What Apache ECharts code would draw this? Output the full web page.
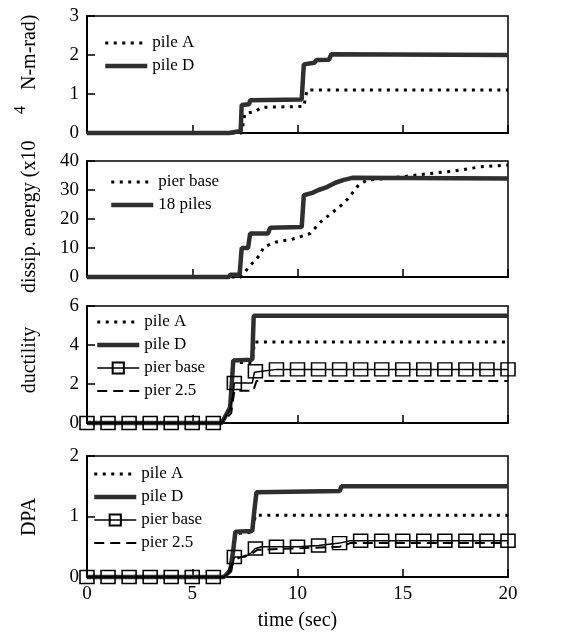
<!DOCTYPE html>
<html>
<head>
<meta charset="utf-8">
<script src="https://cdn.jsdelivr.net/npm/echarts@6/dist/echarts.min.js"></script>
<style>
  html, body { margin: 0; background: #fff; }
  #chart { width: 564px; height: 639px; }
</style>
</head>
<body>
<div id="chart"></div>
<script>
// panel 1: dissipated energy in piles (x10^4 N-m-rad)
var enPileAT = [0, 7.35, 7.5, 8.0, 8.3, 10.3, 10.45, 20]
var enPileAV = [0, 0, 0.5, 0.55, 0.66, 0.68, 1.1, 1.1]
var enPileDT = [0, 6.75, 6.8, 7.3, 7.35, 7.7, 7.75, 10.2, 10.3, 10.8, 10.9, 11.5, 11.6, 20]
var enPileDV = [0, 0, 0.05, 0.05, 0.72, 0.74, 0.84, 0.86, 1.76, 1.8, 1.87, 1.88, 2.02, 2.0]

// panel 2: pier base vs all 18 piles
var enPierT = [0, 7.3, 7.7, 8.2, 8.4, 9.0, 9.7, 10.1, 10.6, 11.1, 11.7, 12.0, 12.4, 12.9, 13.3, 14.9, 16.3, 17.4, 18.7, 20]
var enPierV = [0, 0, 3.5, 7.5, 10.4, 12.1, 12.9, 13.8, 15, 19, 22.5, 24.2, 27, 31.7, 33.4, 34.5, 35.7, 36.5, 38, 38.6]
var en18T = [0, 6.75, 6.8, 7.25, 7.35, 7.65, 7.75, 8.6, 8.7, 10.2, 10.3, 10.7, 11.0, 11.4, 11.8, 12.2, 12.6, 20]
var en18V = [0, 0, 0.8, 0.8, 10, 10, 15, 15, 17, 17.2, 28.2, 29, 30, 31, 32.5, 33.5, 34.2, 34]

// panel 3: ductility
var duPileAT = [0, 6.4, 6.8, 6.95, 7.85, 7.95, 20]
var duPileAV = [0, 0, 0.8, 3.1, 3.1, 4.15, 4.15]
var duPileDT = [0, 6.4, 6.8, 6.95, 7.85, 7.92, 20]
var duPileDV = [0, 0, 0.8, 3.2, 3.25, 5.5, 5.5]
var duPierT = [0, 1, 2, 3, 4, 5, 6, 6.4, 6.8, 6.95, 7, 7.85, 7.95, 8, 9, 10, 11, 12, 13, 14, 15, 16, 17, 18, 19, 20]
var duPierV = [0, 0, 0, 0, 0, 0, 0, 0, 0.7, 1.6, 2.05, 2.05, 2.6, 2.65, 2.75, 2.75, 2.75, 2.75, 2.75, 2.75, 2.75, 2.75, 2.75, 2.75, 2.75, 2.75]
var duPier25T = [0, 6.4, 6.85, 7.0, 7.9, 8.05, 20]
var duPier25V = [0, 0, 0.5, 1.65, 1.65, 2.15, 2.15]

// panel 4: DPA
var dpPileAT = [0, 6.5, 6.8, 7.05, 7.85, 8.0, 20]
var dpPileAV = [0, 0, 0.1, 0.72, 0.74, 1.02, 1.02]
var dpPileDT = [0, 6.5, 6.8, 6.95, 7.05, 7.85, 7.95, 8.05, 12, 12.1, 20]
var dpPileDV = [0, 0, 0.1, 0.45, 0.75, 0.76, 1.1, 1.4, 1.42, 1.5, 1.5]
var dpPierT = [0, 1, 2, 3, 4, 5, 6, 6.5, 6.85, 7, 7.5, 7.8, 8, 8.3, 9, 10, 11, 11.5, 12, 12.5, 13, 14, 15, 16, 17, 18, 19, 20]
var dpPierV = [0, 0, 0, 0, 0, 0, 0, 0, 0.1, 0.33, 0.33, 0.4, 0.47, 0.5, 0.5, 0.5, 0.52, 0.54, 0.56, 0.6, 0.6, 0.6, 0.6, 0.6, 0.6, 0.6, 0.6, 0.6]
var dpPier25T = [0, 6.5, 6.9, 7.1, 7.9, 8.1, 12, 12.5, 20]
var dpPier25V = [0, 0, 0.2, 0.3, 0.4, 0.45, 0.5, 0.56, 0.56]

// y axis ranges per panel
var yMax = [3, 40, 6, 2]
var yStep = [1, 10, 2, 1]

var FONT = 'Liberation Serif'
var chart = echarts.init(document.getElementById('chart'))

function pts(t, v) {
  return t.map(function (x, i) { return [x, v[i]] })
}
// squares only on whole seconds
function marked(t, v) {
  return t.map(function (x, i) {
    return Number.isInteger(x) ? [x, v[i]] : { value: [x, v[i]], symbol: 'none' }
  })
}

var dotted = { color: '#000', width: 3, type: [3, 5.5] }
var thick = { color: '#2f2f2f', width: 4.5 }
var dashed = { color: '#000', width: 2, type: [10, 6] }
var noMark = { color: 'transparent', borderWidth: 0, opacity: 0 }

function line(name, idx, data, style) {
  return {
    name: name, type: 'line', xAxisIndex: idx, yAxisIndex: idx,
    data: data, symbol: 'none', lineStyle: style, itemStyle: noMark,
    clip: false, animation: false
  }
}
function squares(name, idx, data) {
  return {
    name: name, type: 'line', xAxisIndex: idx, yAxisIndex: idx,
    data: data, symbol: 'rect', symbolSize: [14, 13], showSymbol: true, showAllSymbol: true,
    itemStyle: { color: 'transparent', borderColor: '#000', borderWidth: 1.5 },
    lineStyle: { color: '#000', width: 1.5 }, clip: false, animation: false, z: 3
  }
}

var grids = [
  { left: 87, right: 56, top: 16, height: 117 },
  { left: 87, right: 56, top: 161, height: 116 },
  { left: 87, right: 56, top: 306, height: 117 },
  { left: 87, right: 56, top: 456, height: 121 }
]
grids.forEach(function (g) { g.show = true; g.borderColor = '#000'; g.borderWidth = 1.5 })

var xAxes = grids.map(function (g, i) {
  return {
    type: 'value', gridIndex: i, min: 0, max: 20, interval: 5,
    axisLine: { lineStyle: { color: '#000', width: 2 } },
    axisTick: { inside: true, length: 8, lineStyle: { color: '#000', width: 1.5 } },
    axisLabel: { show: i === 3, color: '#000', fontFamily: FONT, fontSize: 19, margin: 8 },
    splitLine: { show: false },
    name: i === 3 ? 'time (sec)' : '', nameLocation: 'middle', nameGap: 34,
    nameTextStyle: { color: '#000', fontFamily: FONT, fontSize: 20 }
  }
})
var yAxes = grids.map(function (g, i) {
  return {
    type: 'value', gridIndex: i, min: 0, max: yMax[i], interval: yStep[i],
    axisLine: { lineStyle: { color: '#000', width: 2 } },
    axisTick: { inside: true, length: 8, lineStyle: { color: '#000', width: 1.5 } },
    axisLabel: { color: '#000', fontFamily: FONT, fontSize: 19, margin: 8 },
    splitLine: { show: false }
  }
})

function legend(names, top, left) {
  return {
    data: names.map(function (n) {
      return n.indexOf('pier base') > 0 && n[0] !== 'f' ? { name: n } : { name: n, itemStyle: noMark }
    }),
    orient: 'vertical', left: left, top: top, padding: 0,
    itemWidth: 42, itemHeight: 14, itemGap: 3,
    lineStyle: { width: 'inherit' },
    formatter: function (n) { return n.split('|')[1] },
    textStyle: { color: '#000', fontFamily: FONT, fontSize: 17, lineHeight: 20 }
  }
}

var titleStyle = { fill: '#000', font: '20px "Liberation Serif"', align: 'center', verticalAlign: 'middle' }

chart.setOption({
  backgroundColor: '#fff',
  grid: grids,
  xAxis: xAxes,
  yAxis: yAxes,
  legend: [
    legend(['e|pile A', 'e|pile D'], 33, 103),
    legend(['f|pier base', 'f|18 piles'], 172, 109),
    legend(['u|pile A', 'u|pile D', 'u|pier base', 'u|pier 2.5'], 312, 95),
    legend(['p|pile A', 'p|pile D', 'p|pier base', 'p|pier 2.5'], 464, 92)
  ],
  graphic: [
    { type: 'text', x: 30, y: 293, rotation: Math.PI / 2,
      style: { text: 'dissip. energy (x10', fill: '#000', font: '20px "Liberation Serif"', align: 'left', verticalAlign: 'middle' } },
    { type: 'text', x: 21, y: 110, rotation: Math.PI / 2,
      style: { text: '4', fill: '#000', font: '16px "Liberation Serif"', align: 'center', verticalAlign: 'middle' } },
    { type: 'text', x: 30, y: 90, rotation: Math.PI / 2,
      style: { text: 'N-m-rad)', fill: '#000', font: '20px "Liberation Serif"', align: 'left', verticalAlign: 'middle' } },
    { type: 'text', x: 30, y: 360, rotation: Math.PI / 2, style: Object.assign({ text: 'ductility' }, titleStyle) },
    { type: 'text', x: 30, y: 517, rotation: Math.PI / 2, style: Object.assign({ text: 'DPA' }, titleStyle) }
  ],
  series: [
    line('e|pile A', 0, pts(enPileAT, enPileAV), dotted),
    line('e|pile D', 0, pts(enPileDT, enPileDV), thick),
    line('f|pier base', 1, pts(enPierT, enPierV), dotted),
    line('f|18 piles', 1, pts(en18T, en18V), thick),
    line('u|pile A', 2, pts(duPileAT, duPileAV), dotted),
    line('u|pile D', 2, pts(duPileDT, duPileDV), thick),
    squares('u|pier base', 2, marked(duPierT, duPierV)),
    line('u|pier 2.5', 2, pts(duPier25T, duPier25V), dashed),
    line('p|pile A', 3, pts(dpPileAT, dpPileAV), dotted),
    line('p|pile D', 3, pts(dpPileDT, dpPileDV), thick),
    squares('p|pier base', 3, marked(dpPierT, dpPierV)),
    line('p|pier 2.5', 3, pts(dpPier25T, dpPier25V), dashed)
  ]
})
</script>
</body>
</html>
